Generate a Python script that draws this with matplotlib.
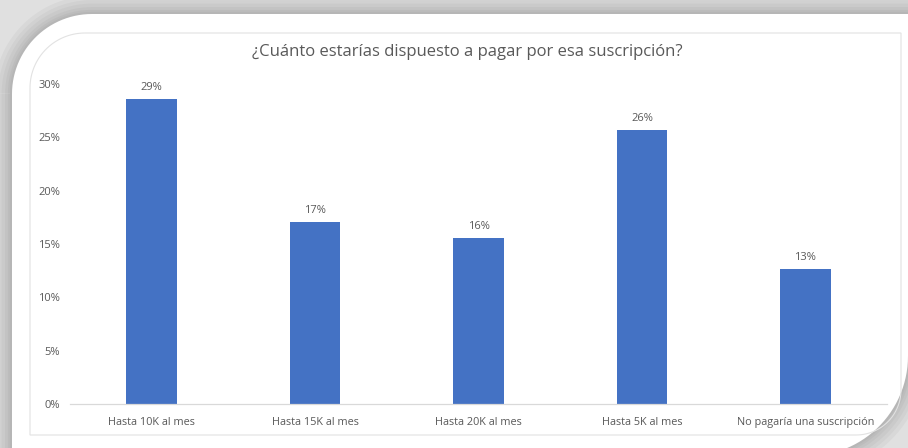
import numpy as np
import matplotlib
matplotlib.use("Agg")
import matplotlib.pyplot as plt
from matplotlib.path import Path
from matplotlib.patches import PathPatch

# Survey answers: how much would you pay for the subscription
categories = [
    "Hasta 10K al mes",
    "Hasta 15K al mes",
    "Hasta 20K al mes",
    "Hasta 5K al mes",
    "No pagaría una suscripción",
]
shares = [0.286, 0.171, 0.156, 0.257, 0.127]
y_ticks = [0.0, 0.05, 0.10, 0.15, 0.20, 0.25, 0.30]

title = "¿Cuánto estarías dispuesto a pagar por esa suscripción?"

W, H = 908, 448
text_grey = "#595959"
bar_blue = "#4472C4"

plt.rcParams["font.family"] = ["Open Sans", "DejaVu Sans"]


def rounded_path(x0, y0, x1, y1, r_tl, r_br):
    # box in pixel space (y down), only top-left and bottom-right corners rounded
    t = np.linspace(0, np.pi / 2, 30)
    cx, cy = x0 + r_tl, y0 + r_tl
    verts = list(zip(cx - r_tl * np.cos(t), cy - r_tl * np.sin(t)))
    verts.append((x1, y0))
    cx, cy = x1 - r_br, y1 - r_br
    verts += list(zip(cx + r_br * np.cos(t), cy + r_br * np.sin(t)))
    verts.append((x0, y1))
    verts.append(verts[0])
    return Path(verts, closed=True)


fig = plt.figure(figsize=(W / 100, H / 100), dpi=100)
fig.patch.set_facecolor("#e0e0e0")

# backdrop: white card with a soft shadow and the chart frame inside it
bg = fig.add_axes([0, 0, 1, 1])
bg.set_xlim(0, W)
bg.set_ylim(H, 0)
bg.set_axis_off()

card = rounded_path(12, 14, 908, 456, 80, 100)
for lw in [26, 20, 15, 10, 6, 3]:
    bg.add_patch(PathPatch(card, facecolor="none", edgecolor="black",
                           lw=lw, alpha=0.03, joinstyle="round"))
bg.add_patch(PathPatch(card, facecolor="white", edgecolor="none"))

frame = rounded_path(30, 33, 901, 435, 55, 45)
bg.add_patch(PathPatch(frame, facecolor="none", edgecolor="#e2e2e2", lw=0.8))

# bar chart
ax = fig.add_axes([70 / W, 1 - 404 / H, 817 / W, 320 / H])
ax.patch.set_alpha(0)

x = np.arange(len(categories))
bars = ax.bar(x, shares, width=0.31, color=bar_blue, zorder=2)

ax.set_xlim(-0.5, len(categories) - 0.5)
ax.set_ylim(0, 0.30)
ax.set_yticks(y_ticks)
ax.set_yticklabels([f"{v:.0%}" for v in y_ticks])
ax.set_xticks(x)
ax.set_xticklabels(categories)

ax.tick_params(axis="y", length=0, pad=7, labelsize=8, labelcolor=text_grey)
ax.tick_params(axis="x", length=0, pad=9, labelsize=7.8, labelcolor=text_grey)

for side in ["top", "right", "left"]:
    ax.spines[side].set_visible(False)
ax.spines["bottom"].set_color("#d9d9d9")
ax.spines["bottom"].set_linewidth(0.9)

ax.bar_label(bars, labels=[f"{v:.0%}" for v in shares], padding=4,
             fontsize=8, color=text_grey)

fig.text(467 / W, 1 - 52 / H, title, ha="center", va="center",
         fontsize=12, color=text_grey)

fig.savefig("out.png", dpi=100, facecolor=fig.get_facecolor())
